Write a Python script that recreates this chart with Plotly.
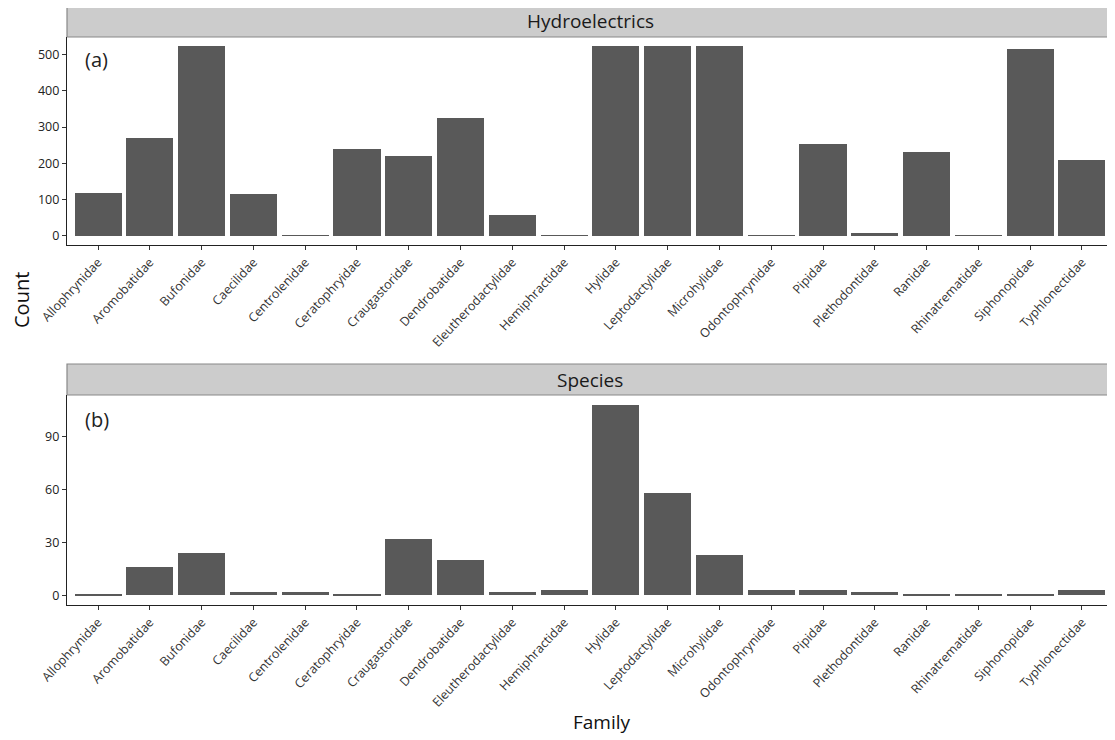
import plotly.graph_objects as go

families = ["Allophrynidae", "Aromobatidae", "Bufonidae", "Caecilidae", "Centrolenidae",
            "Ceratophryidae", "Craugastoridae", "Dendrobatidae", "Eleutherodactylidae",
            "Hemiphractidae", "Hylidae", "Leptodactylidae", "Microhylidae", "Odontophrynidae",
            "Pipidae", "Plethodontidae", "Ranidae", "Rhinatrematidae", "Siphonopidae",
            "Typhlonectidae"]
hydro_counts = [118, 270, 523, 115, 1, 240, 219, 326, 58, 1,
                523, 523, 523, 1, 252, 8, 230, 1, 515, 208]
species_counts = [1, 16, 24, 2, 2, 1, 32, 20, 2, 3,
                  108, 58, 23, 3, 3, 2, 1, 1, 1, 3]
hydro_ticks = [0, 100, 200, 300, 400, 500]
species_ticks = [0, 30, 60, 90]

OFF = 8  # page body margin
W, H = 1115 - OFF, 740 - OFF
def px(p):
    return (p - OFF) / W
def py(p):
    return 1 - (p - OFF) / H

font = "Open Sans"
bar_color = "#595959"

fig = go.Figure()
fig.add_trace(go.Bar(x=families, y=hydro_counts, marker=dict(color=bar_color, line=dict(width=0)),
                     width=0.91, xaxis="x", yaxis="y", showlegend=False))
fig.add_trace(go.Bar(x=families, y=species_counts, marker=dict(color=bar_color, line=dict(width=0)),
                     width=0.91, xaxis="x2", yaxis="y2", showlegend=False))

xdom = [px(67), px(1113)]
xcommon = dict(domain=xdom, range=[-0.6, 19.6], tickangle=-47, ticks="outside", ticklen=4,
               tickcolor="#333333", showline=True, linecolor="#222222", linewidth=1.2,
               tickfont=dict(family=font, size=12.5, color="#333333"), showgrid=False,
               categoryorder="array", categoryarray=families, zeroline=False, automargin=False)
ycommon = dict(ticks="outside", ticklen=4, tickcolor="#333333", showline=True,
               linecolor="#222222", linewidth=1.2, showgrid=False, zeroline=False,
               tickfont=dict(family=font, size=12.5, color="#222222"), automargin=False)

hmax = max(hydro_counts)
smax = max(species_counts)
fig.update_layout(
    width=W, height=H, margin=dict(l=0, r=0, t=0, b=0, pad=0),
    plot_bgcolor="white", paper_bgcolor="white", bargap=0,
    xaxis=dict(**xcommon, anchor="y"),
    yaxis=dict(**ycommon, domain=[py(245), py(37)], anchor="x",
               range=[-0.05 * hmax, 1.05 * hmax], tickvals=hydro_ticks),
    xaxis2=dict(**xcommon, anchor="y2"),
    yaxis2=dict(**ycommon, domain=[py(605), py(395)], anchor="x2",
                range=[-0.05 * smax, 1.05 * smax], tickvals=species_ticks),
)

# strips
for top, bot, label in [(6, 37, "Hydroelectrics"), (364, 395, "Species")]:
    fig.add_shape(type="rect", xref="paper", yref="paper", x0=xdom[0], x1=xdom[1],
                  y0=py(bot), y1=py(top), fillcolor="#cccccc",
                  line=dict(color="#888888", width=1.2), layer="below")
    fig.add_annotation(xref="paper", yref="paper", x=(xdom[0] + xdom[1]) / 2,
                       y=py((top + bot) / 2), text=label, showarrow=False,
                       xanchor="center", yanchor="middle",
                       font=dict(family=font, size=19, color="#1a1a1a"))

fig.add_annotation(xref="paper", yref="paper", x=px(83), y=py(60), text="(a)", showarrow=False,
                   xanchor="left", yanchor="middle", font=dict(family=font, size=20, color="#222222"))
fig.add_annotation(xref="paper", yref="paper", x=px(83), y=py(420), text="(b)", showarrow=False,
                   xanchor="left", yanchor="middle", font=dict(family=font, size=20, color="#222222"))
fig.add_annotation(xref="paper", yref="paper", x=px(21), y=py(300), text="Count", showarrow=False,
                   textangle=-90, xanchor="center", yanchor="middle",
                   font=dict(family=font, size=20, color="#111111"))
fig.add_annotation(xref="paper", yref="paper", x=px(602), y=py(722), text="Family", showarrow=False,
                   xanchor="center", yanchor="middle", font=dict(family=font, size=19, color="#111111"))

fig.write_html("out.html")
